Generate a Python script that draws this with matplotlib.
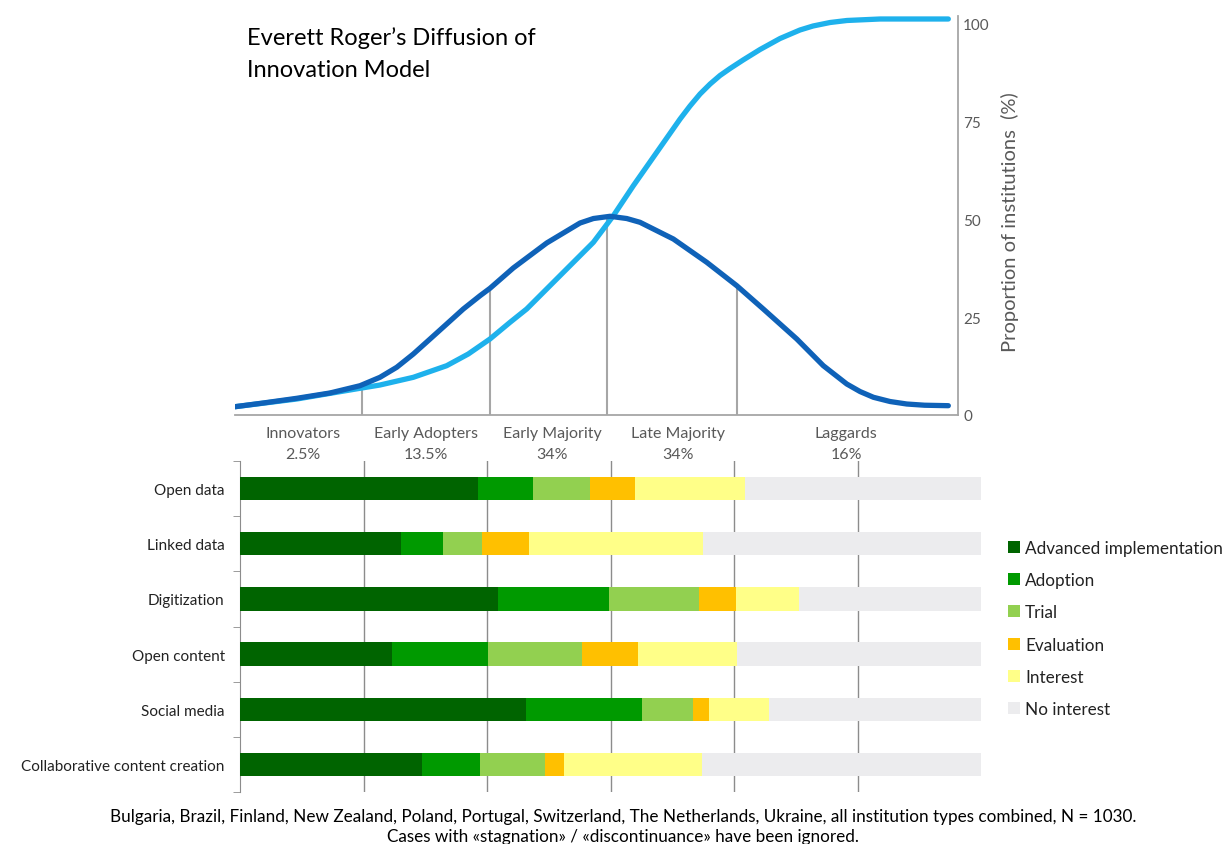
import matplotlib
matplotlib.use("Agg")
import matplotlib.pyplot as plt
from matplotlib.patches import Patch

plt.rcParams['font.family'] = ['Lato', 'DejaVu Sans']

# ---------------- data ----------------
# Top chart (x in standard-deviation units, y in %)
bell_x = [-3.000, -2.772, -2.502, -2.234, -1.992, -1.831, -1.696, -1.562, -1.427,
          -1.293, -1.159, -1.024, -0.944, -0.756, -0.486, -0.218, -0.110, 0.024,
          0.159, 0.266, 0.535, 0.804, 1.046, 1.260, 1.530, 1.744, 1.933, 2.040,
          2.148, 2.282, 2.417, 2.560, 2.752]
bell_y = [2.12, 3.07, 4.27, 5.63, 7.49, 9.64, 12.20, 15.60, 19.44,
          23.27, 27.11, 30.51, 32.40, 37.60, 44.00, 49.10, 50.25, 50.82,
          50.25, 49.28, 45.01, 39.05, 33.07, 27.11, 19.44, 12.61, 7.93, 6.0,
          4.53, 3.45, 2.81, 2.50, 2.38]
s_x = [-3.000, -2.502, -1.992, -1.831, -1.562, -1.293, -1.119, -0.944, -0.782,
       -0.648, -0.352, -0.110, 0.051, 0.212, 0.401, 0.589, 0.669, 0.750, 0.831,
       0.911, 0.992, 1.097, 1.234, 1.395, 1.556, 1.661, 1.798, 1.935, 2.202, 2.752]
s_y = [2.12, 4.09, 6.83, 7.67, 9.64, 12.61, 15.60, 19.44, 23.71,
       27.11, 36.50, 44.17, 50.97, 58.64, 67.19, 75.70, 79.03, 82.10, 84.65,
       86.83, 88.62, 90.79, 93.48, 96.29, 98.47, 99.49, 100.38, 100.90, 101.28, 101.28]
boundary_x = [-1.976, -0.944, 0.0, 1.048]
boundary_y = [7.6, 32.4, 50.8, 33.0]
segment_names = ["Innovators", "Early Adopters", "Early Majority", "Late Majority", "Laggards"]
segment_shares = ["2.5%", "13.5%", "34%", "34%", "16%"]
segment_label_x = [-2.452, -1.46, -0.444, 0.573, 1.927]
right_ticks = [0, 25, 50, 75, 100]

# Bottom chart
categories = ["Open data", "Linked data", "Digitization", "Open content",
              "Social media", "Collaborative content creation"]
stages = ["Advanced implementation", "Adoption", "Trial", "Evaluation",
          "Interest", "No interest"]
advanced = [32.1, 21.7, 34.8, 20.5, 38.6, 24.6]
adoption = [7.5, 5.7, 15.0, 13.0, 15.6, 7.8]
trial = [7.6, 5.2, 12.1, 12.6, 7.0, 8.8]
evaluation = [6.1, 6.4, 5.0, 7.6, 2.1, 2.5]
interest = [14.9, 23.5, 8.5, 13.4, 8.1, 18.7]
no_interest = [31.8, 37.5, 24.6, 32.9, 28.6, 37.6]
stage_colors = ["#006400", "#009A00", "#92D050", "#FFC000", "#FFFF88", "#ECECEE"]

title_lines = ["Everett Roger’s Diffusion of", "Innovation Model"]
footnote_lines = ["Bulgaria, Brazil, Finland, New Zealand, Poland, Portugal, Switzerland, "
                  "The Netherlands, Ukraine, all institution types combined, N = 1030.",
                  "Cases with «stagnation» / «discontinuance» have been ignored."]

# ---------------- figure ----------------
W, H = 1224, 845
fig = plt.figure(figsize=(W / 100, H / 100), dpi=100)
fig.patch.set_facecolor("white")

def box(l, t, r, b):
    return [l / W, 1 - b / H, (r - l) / W, (b - t) / H]

grey_txt = "#595959"

# ---- top chart ----
ax = fig.add_axes(box(235, 17, 958, 416))
ax.set_xlim(-3.0, 2.83)
ax.set_ylim(0, (416 - 17) / 3.91)
for xb, yb in zip(boundary_x, boundary_y):
    ax.plot([xb, xb], [0, yb], color="#A6A6A6", lw=1.5, zorder=1)
ax.plot(bell_x, bell_y, color="#0F62B8", lw=3.8, solid_capstyle="round",
        solid_joinstyle="round", zorder=3)
ax.plot(s_x, s_y, color="#1EB1EC", lw=3.8, solid_capstyle="round",
        solid_joinstyle="round", zorder=2)
for sp in ["top", "left"]:
    ax.spines[sp].set_visible(False)
for sp in ["bottom", "right"]:
    ax.spines[sp].set_color("#A6A6A6")
    ax.spines[sp].set_linewidth(1.3)
ax.set_xticks([])
ax.yaxis.tick_right()
ax.set_yticks(right_ticks)
ax.tick_params(axis="y", length=0, pad=3.6, labelsize=11, labelcolor=grey_txt)
ax.yaxis.set_label_position("right")
ax.set_ylabel("Proportion of institutions  (%)", fontsize=14.5, color=grey_txt,
              labelpad=8)
ax.yaxis.label.set_y((416 - 222) / 399)
for name, share, lx in zip(segment_names, segment_shares, segment_label_x):
    ax.annotate(name, (lx, 0), xytext=(0, -(438 - 416) * 0.72),
                textcoords="offset points", ha="center", va="baseline",
                fontsize=11.5, color=grey_txt, annotation_clip=False)
    ax.annotate(share, (lx, 0), xytext=(0, -(459 - 416) * 0.72),
                textcoords="offset points", ha="center", va="baseline",
                fontsize=11.5, color=grey_txt, annotation_clip=False)
for line, base in zip(title_lines, [45, 77]):
    fig.text(247 / W, 1 - base / H, line, ha="left", va="baseline",
             fontsize=17, color="black")

# ---- bar chart ----
bx = fig.add_axes(box(240, 462, 981, 793))
ypos = list(range(len(categories)))
series = [advanced, adoption, trial, evaluation, interest, no_interest]
left = [0.0] * len(categories)
for vals, col, lab in zip(series, stage_colors, stages):
    bx.barh(ypos, vals, left=left, height=0.42, color=col, label=lab, zorder=3,
            linewidth=0)
    left = [a + b for a, b in zip(left, vals)]
bx.set_xlim(0, 100)
bx.set_ylim(len(categories) - 0.5, -0.5)
bx.set_xticks([100 / 6 * k for k in range(1, 6)])
bx.xaxis.grid(True, color="#8C8C8C", lw=1, zorder=0)
bx.tick_params(axis="x", length=0, labelbottom=False)
bx.set_yticks(ypos)
bx.set_yticklabels(categories, fontsize=11, color="#222222")
bx.tick_params(axis="y", length=0, pad=11)
bx.set_yticks([k + 0.5 for k in range(-1, len(categories))], minor=True)
bx.tick_params(axis="y", which="minor", length=5, color="#8C8C8C")
for sp in ["top", "right", "bottom"]:
    bx.spines[sp].set_visible(False)
bx.spines["left"].set_color("#8C8C8C")

handles = [Patch(facecolor=c, edgecolor="none") for c in stage_colors]
fig.legend(handles, stages, loc="upper left", bbox_to_anchor=(1001 / W, 1 - 534 / H),
           frameon=False, fontsize=12.3, handlelength=0.7, handleheight=0.7,
           handletextpad=0.3, labelspacing=0.95, labelcolor="#222222",
           borderaxespad=0)

for line, base in zip(footnote_lines, [822, 842]):
    fig.text(623 / W, 1 - base / H, line, ha="center", va="baseline", fontsize=12.3,
             color="black")

fig.savefig("out.png", dpi=100, facecolor="white")
